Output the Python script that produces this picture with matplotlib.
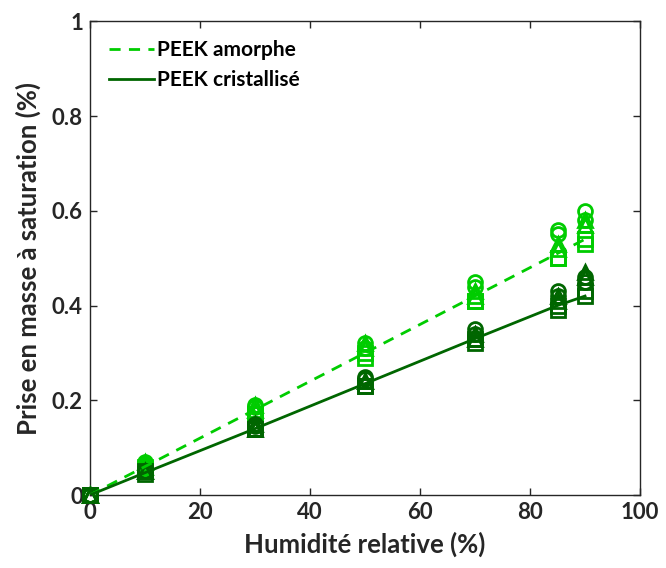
import matplotlib.pyplot as plt
import numpy as np

plt.rcParams['font.family'] = ['Lato', 'DejaVu Sans']

# relative humidity (%)
hr = [0, 10, 30, 50, 70, 85, 90]

# PEEK amorphe - saturation mass uptake (%)
am_circle = [0, 0.07, 0.19, 0.32, 0.45, 0.56, 0.60]
am_circle_b = [0, 0.065, 0.185, 0.31, 0.44, 0.55, 0.58]
am_tri = [0, 0.07, 0.19, 0.32, 0.43, 0.53, 0.58]
am_tri_b = [0, 0.06, 0.18, 0.31, 0.42, 0.52, 0.57]
am_square = [0, 0.06, 0.17, 0.29, 0.41, 0.50, 0.53]
am_square_b = [0, 0.055, 0.17, 0.30, 0.41, 0.50, 0.54]
am_fit = [0, 0.06, 0.18, 0.30, 0.42, 0.51, 0.54]

# PEEK cristallise
cr_circle = [0, 0.05, 0.15, 0.25, 0.35, 0.43, 0.46]
cr_circle_b = [0, 0.05, 0.145, 0.245, 0.34, 0.42, 0.45]
cr_tri = [0, 0.05, 0.15, 0.24, 0.34, 0.42, 0.47]
cr_tri_b = [0, 0.05, 0.14, 0.24, 0.33, 0.41, 0.46]
cr_square = [0, 0.05, 0.14, 0.23, 0.32, 0.39, 0.42]
cr_square_b = [0, 0.045, 0.14, 0.23, 0.33, 0.40, 0.43]
cr_fit = [0, 0.047, 0.14, 0.235, 0.33, 0.40, 0.42]

light = '#00cc00'
dark = '#006600'

fig = plt.figure(figsize=(6.66, 5.68), dpi=100)
ax = fig.add_axes([0.135, 0.1285, 0.826, 0.834])

def pts(y, marker, color):
    ax.plot(hr, y, linestyle='none', marker=marker, markersize=10,
            markerfacecolor='none', markeredgecolor=color,
            markeredgewidth=2, clip_on=False, zorder=3)

for y in [am_circle, am_circle_b]:
    pts(y, 'o', light)
for y in [am_tri, am_tri_b]:
    pts(y, '^', light)
for y in [am_square, am_square_b]:
    pts(y, 's', light)
for y in [cr_circle, cr_circle_b]:
    pts(y, 'o', dark)
for y in [cr_tri, cr_tri_b]:
    pts(y, '^', dark)
for y in [cr_square, cr_square_b]:
    pts(y, 's', dark)

ax.plot(hr, am_fit, '--', color=light, lw=2, dashes=(4, 3), label='PEEK amorphe', zorder=4)
ax.plot(hr, cr_fit, '-', color=dark, lw=2, label='PEEK cristallisé', zorder=4)

ax.set_xlim(0, 100)
ax.set_ylim(0, 1)
ax.set_xticks(np.arange(0, 101, 20))
ax.set_yticks([0, 0.2, 0.4, 0.6, 0.8, 1])
ax.set_yticklabels(['0', '0.2', '0.4', '0.6', '0.8', '1'])
ax.tick_params(direction='in', top=True, right=True, length=5, width=1,
               labelsize=16, colors='#262626', pad=5)
for lab in ax.get_xticklabels() + ax.get_yticklabels():
    lab.set_fontweight('bold')
for s in ax.spines.values():
    s.set_linewidth(1)
    s.set_color('#262626')

ax.set_xlabel('Humidité relative (%)', fontsize=18.5, fontweight='bold', color='#262626',
              labelpad=6)
ax.set_ylabel('Prise en masse à saturation (%)', fontsize=18.5, fontweight='bold',
              color='#262626', labelpad=8)

leg = ax.legend(loc='upper left', frameon=False, prop={'weight': 'bold', 'size': 15},
                handlelength=2.2, handletextpad=0.1, borderaxespad=0.5)

fig.savefig('out.png', dpi=100)
